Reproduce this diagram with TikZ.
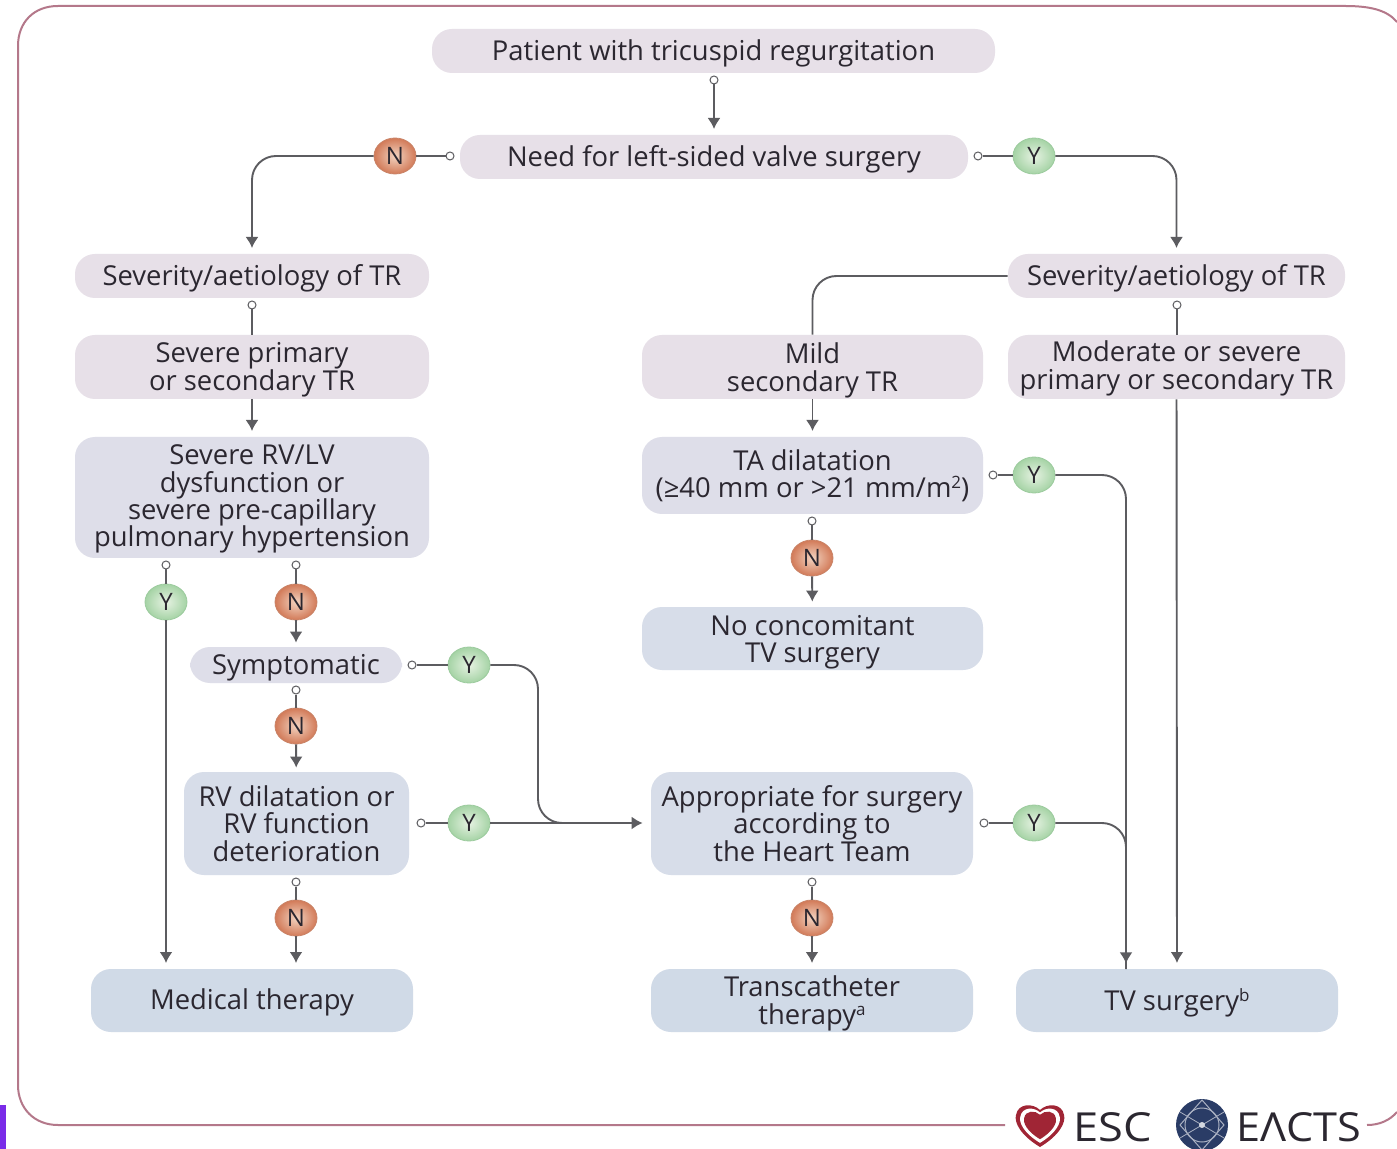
\documentclass[tikz,border=0pt]{standalone}
\usepackage{fontspec}
\setmainfont{Open Sans}
\usetikzlibrary{arrows.meta,shapes.geometric,calc}
\definecolor{boxa}{HTML}{E7E0E8}
\definecolor{boxb}{HTML}{DEDEE9}
\definecolor{boxc}{HTML}{D7DDE9}
\definecolor{boxd}{HTML}{D0DAE7}
\definecolor{txt}{HTML}{2B2730}
\definecolor{wire}{HTML}{5C5C60}
\definecolor{frameline}{HTML}{B4788A}
\definecolor{escred}{HTML}{A02535}
\definecolor{navy}{HTML}{2A3C66}
\definecolor{noin}{HTML}{F2D3C0}
\definecolor{noout}{HTML}{D27A58}
\definecolor{nodraw}{HTML}{C98468}
\definecolor{yesin}{HTML}{E6F2E2}
\definecolor{yesout}{HTML}{A5D3A5}
\definecolor{yesdraw}{HTML}{9CCB9E}
\definecolor{sidebar}{HTML}{7A2BE8}
\newcommand{\tightlines}{\setlength{\lineskiplimit}{-100pt}}
\tikzset{
  x=0.5pt,y=-0.5pt,
  boxn/.style={rectangle,rounded corners=10pt,inner sep=0pt,align=center,text=txt,
    font=\fontsize{13.7}{13.7}\selectfont\tightlines},
  portn/.style={circle,draw=wire,fill=white,line width=0.5pt,minimum size=4pt,inner sep=0pt},
  badgen/.style={ellipse,inner sep=0pt,minimum width=21pt,minimum height=18pt,text=txt,
    font=\fontsize{12}{12}\selectfont,draw=#1},
  nob/.style={badgen=nodraw,inner color=noin,outer color=noout},
  yesb/.style={badgen=yesdraw,inner color=yesin,outer color=yesout},
  wirel/.style={draw=wire,line width=0.95pt},
  arrowl/.style={wirel,-{Latex[length=5.5pt,width=6.5pt]},shorten >=#1},
  arrowl/.default=2.8pt,
  elbow/.style={rounded corners=12pt},
  logot/.style={text=txt,font=\fontsize{20}{20}\selectfont,inner sep=0pt},
}
\newcommand{\bx}[7]{%
  \pgfmathsetmacro{\cx}{(#2+#4)/2}%
  \pgfmathsetmacro{\cy}{(#3+#5)/2}%
  \pgfmathsetmacro{\bw}{(#4-#2)/2}%
  \pgfmathsetmacro{\bh}{(#5-#3)/2}%
  \node[boxn,fill=#6,minimum width=\bw pt,minimum height=\bh pt] (#1) at (\cx,\cy) {#7};}
\newcommand{\dn}[1]{\rule{0pt}{\dimexpr 10.6pt+#1pt\relax}}
\newcommand{\sps}[1]{\raisebox{4.5pt}{\fontsize{8.5}{8.5}\selectfont #1}}
\begin{document}
\begin{tikzpicture}
\useasboundingbox (0,0) rectangle (1397,1149);
\fill[white] (0,0) rectangle (1397,1149);
% frame
\draw[frameline,line width=1pt] (1005,1125) -- (58,1125) .. controls (34,1125) and (18,1108) .. (18,1085)
  -- (18,46) .. controls (18,22) and (34,6) .. (58,6) -- (1345,6) .. controls (1370,6) and (1387,10) .. (1397,22);
\draw[frameline,line width=1pt] (1367,1125) .. controls (1380,1125) and (1390,1120) .. (1397,1112);
\fill[sidebar] (0,1105) rectangle (6,1149);
% boxes
\bx{patient}{432}{29}{995}{73}{boxa}{\dn{2}Patient with tricuspid regurgitation}
\bx{need}{460}{135}{968}{179}{boxa}{\dn{2}Need for left-sided valve surgery}
\bx{sevl}{75}{254}{429}{298}{boxa}{\dn{2}Severity/aetiology of TR}
\bx{sevp}{75}{335}{429}{399}{boxa}{\dn{2}Severe primary\\or secondary TR}
\bx{rvlv}{75}{437}{429}{558}{boxb}{\dn{1}Severe RV/LV\\dysfunction or\\severe pre-capillary\\pulmonary hypertension}
\bx{sympt}{190}{647}{402}{683}{boxb}{\dn{2}Symptomatic}
\bx{rvdil}{184}{772}{409}{875}{boxc}{RV dilatation or\\RV function\\deterioration}
\bx{medical}{91}{969}{413}{1032}{boxd}{\dn{2}Medical therapy}
\bx{sevr}{1008}{254}{1345}{298}{boxa}{\dn{2}Severity/aetiology of TR}
\bx{mild}{642}{335}{983}{399}{boxa}{\dn{3}Mild\\secondary TR}
\bx{modsev}{1008}{335}{1345}{399}{boxa}{\dn{1}Moderate or severe\\primary or secondary TR}
\bx{tadil}{642}{437}{983}{514}{boxb}{TA dilatation\\(≥40 mm or >21 mm/m\sps{2})}
\bx{nocon}{642}{607}{983}{670}{boxc}{\dn{3}No concomitant\\TV surgery}
\bx{approp}{651}{772}{973}{875}{boxc}{Appropriate for surgery\\according to\\the Heart Team}
\bx{trans}{651}{969}{973}{1032}{boxd}{\dn{2.5}Transcatheter\\therapy\sps{a}}
\bx{tvs}{1016}{969}{1338}{1032}{boxd}{\dn{3}TV surgery\sps{b}}
% ports
\node[portn] (p0) at (714,80) {};
\node[portn] (p1) at (450,156) {};
\node[portn] (p2) at (978,156) {};
\node[portn] (p3) at (252,305) {};
\node[portn] (p4) at (1177,305) {};
\node[portn] (p5) at (166,565) {};
\node[portn] (p6) at (296,565) {};
\node[portn] (p7) at (296,690) {};
\node[portn] (p8) at (296,882) {};
\node[portn] (p9) at (412,665) {};
\node[portn] (p10) at (421,823) {};
\node[portn] (p11) at (812,521) {};
\node[portn] (p12) at (812,882) {};
\node[portn] (p13) at (993,475) {};
\node[portn] (p14) at (984,823) {};
% badges
\node[nob] (n1) at (395,156) {N};
\node[yesb] (y1) at (1034,156) {Y};
\node[yesb] (y2) at (166,602) {Y};
\node[nob] (n2) at (296,602) {N};
\node[yesb] (y3) at (469,665) {Y};
\node[nob] (n3) at (296,726) {N};
\node[yesb] (y4) at (469,823) {Y};
\node[nob] (n4) at (296,918) {N};
\node[nob] (n5) at (812,558) {N};
\node[yesb] (y5) at (1034,475) {Y};
\node[yesb] (y6) at (1034,823) {Y};
\node[nob] (n6) at (812,918) {N};
% free ends
\coordinate (tvin) at (1126,969);
\coordinate (jn) at (538,823);
\coordinate (jo) at (560,823);
% connectors
\draw[arrowl] (p0) -- (need.north -| p0);
\draw[wirel] (p1) -- (n1);
\draw[arrowl,elbow] (n1) -| (sevl);
\draw[wirel] (p2) -- (y1);
\draw[arrowl,elbow] (y1) -| (sevr);
\draw[wirel] (p3) -- (sevp.north -| p3);
\draw[arrowl] (sevp) -- (rvlv);
\draw[wirel] (p5) -- (y2);
\draw[arrowl] (y2) -- (medical.north -| y2);
\draw[wirel] (p6) -- (n2);
\draw[arrowl=2pt] (n2) -- (sympt.north -| n2);
\draw[wirel] (p7) -- (n3);
\draw[arrowl=2pt] (n3) -- (rvdil);
\draw[wirel] (p8) -- (n4);
\draw[arrowl] (n4) -- (medical.north -| n4);
\draw[wirel] (p9) -- (y3);
\draw[wirel,elbow] (y3) -| (jn) -- (jo);
\draw[wirel] (p10) -- (y4);
\draw[arrowl=4pt] (y4) -- (approp.west |- y4);
\draw[wirel,elbow] (sevr) -| (mild);
\draw[wirel] (p4) -- (modsev.north -| p4);
\draw[arrowl] (modsev) -- (tvs);
\draw[arrowl] (mild) -- (tadil);
\draw[wirel] (p11) -- (n5);
\draw[arrowl=2.5pt] (n5) -- (nocon);
\draw[wirel] (p13) -- (y5);
\draw[arrowl,elbow] (y5) -| (tvin);
\draw[wirel] (p14) -- (y6);
\draw[wirel,elbow] (y6) -| (tvin);
\draw[wirel] (p12) -- (n6);
\draw[arrowl] (n6) -- (trans);
% ESC logo
\foreach \s/\c in {1/escred,0.82/white,0.66/escred}{
  \fill[\c,shift={(1040,1124)},scale=\s] (0,23) .. controls (-20,11) and (-26,-2) .. (-24,-9)
    .. controls (-22,-21) and (-7,-21) .. (0,-14) .. controls (7,-21) and (22,-21) .. (24,-9)
    .. controls (26,-2) and (20,11) .. (0,23) -- cycle;}
\node[logot] (esc) at (1113,1127) {\scalebox{1.13}[1]{ESC}};
% EACTS logo
\fill[navy] (1202,1125) circle[radius=26];
\draw[white!60!navy,line width=0.5pt] (1202,1125) circle[radius=17];
\draw[white!60!navy,line width=0.5pt] (1202,1100) -- (1224,1125) -- (1202,1150) -- (1180,1125) -- cycle;
\draw[white!60!navy,line width=0.4pt] (1180,1112) -- (1224,1138) (1180,1138) -- (1224,1112);
\fill[white!80!navy] (1202,1125) circle[radius=3];
\node[logot] (eacts) at (1299,1127) {\scalebox{1.08}[1]{EΛCTS}};
\end{tikzpicture}
\end{document}
